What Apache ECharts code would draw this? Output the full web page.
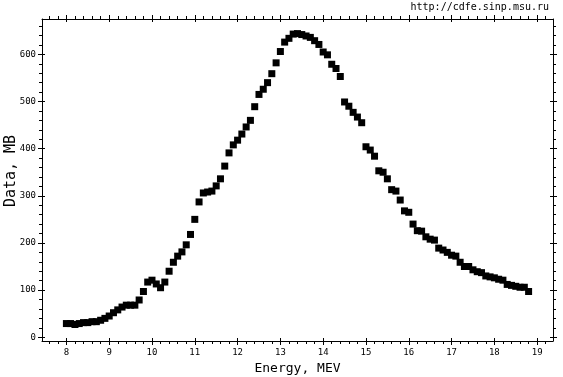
<!DOCTYPE html>
<html>
<head>
<meta charset="utf-8">
<script src="https://cdn.jsdelivr.net/npm/echarts@6/dist/echarts.min.js"></script>
<style>
  html, body { margin: 0; padding: 0; background: #fff; }
  #chart { width: 563px; height: 377px; }
</style>
</head>
<body>
<div id="chart"></div>
<script>
// energies (MeV)
const energy = [
  8.0, 8.1, 8.2, 8.3, 8.4, 8.5, 8.6, 8.7, 8.8, 8.9,
  9.0, 9.1, 9.2, 9.3, 9.4, 9.5, 9.6, 9.7, 9.8, 9.9,
  10.0, 10.1, 10.2, 10.3, 10.4, 10.5, 10.6, 10.7, 10.8, 10.9,
  11.0, 11.1, 11.2, 11.3, 11.4, 11.5, 11.6, 11.7, 11.8, 11.9,
  12.0, 12.1, 12.2, 12.3, 12.4, 12.5, 12.6, 12.7, 12.8, 12.9,
  13.0, 13.1, 13.2, 13.3, 13.4, 13.5, 13.6, 13.7, 13.8, 13.9,
  14.0, 14.1, 14.2, 14.3, 14.4, 14.5, 14.6, 14.7, 14.8, 14.9,
  15.0, 15.1, 15.2, 15.3, 15.4, 15.5, 15.6, 15.7, 15.8, 15.9,
  16.0, 16.1, 16.2, 16.3, 16.4, 16.5, 16.6, 16.7, 16.8, 16.9,
  17.0, 17.1, 17.2, 17.3, 17.4, 17.5, 17.6, 17.7, 17.8, 17.9,
  18.0, 18.1, 18.2, 18.3, 18.4, 18.5, 18.6, 18.7, 18.8
];
// cross section (mb)
const sigma = [
  29, 29, 27, 29, 31, 31, 33, 33, 36, 40,
  45, 52, 58, 64, 68, 68, 68, 79, 97, 117,
  121, 113, 105, 117, 140, 159, 172, 181, 196, 218,
  250, 287, 306, 308, 310, 321, 336, 363, 391, 408,
  418, 431, 446, 460, 489, 515, 526, 540, 559, 582,
  606, 626, 634, 643, 644, 642, 639, 636, 629, 621,
  605, 599, 579, 570, 553, 499, 490, 477, 467, 455,
  404, 397, 384, 353, 350, 336, 313, 310, 291, 268,
  265, 240, 226, 225, 213, 208, 206, 189, 185, 180,
  174, 172, 159, 150, 150, 143, 139, 137, 130, 128,
  126, 123, 121, 112, 110, 108, 106, 106, 97
];

const xMajor = [8, 9, 10, 11, 12, 13, 14, 15, 16, 17, 18, 19];
const xMinor = [];
for (let v = 7.6; v < 19.3; v += 0.2) xMinor.push(Math.round(v * 10) / 10);
const yMajor = [0, 100, 200, 300, 400, 500, 600];
const yMinor = [];
for (let v = 0; v <= 660; v += 20) yMinor.push(v);

const X_MIN = 7.43, X_MAX = 19.37;
const Y_MIN = -8, Y_MAX = 675;
const MONO = "'DejaVu Sans Mono', monospace";

// one axis layer: a set of ticks on one side, optionally with line + labels
function axisLayer(kind, pos, ticks, len, inside, withLine, withLabels) {
  const isX = kind === "x";
  return {
    type: "value",
    position: pos,
    min: isX ? X_MIN : Y_MIN,
    max: isX ? X_MAX : Y_MAX,
    axisLine: { show: withLine, onZero: false, lineStyle: { color: "#000", width: 1 } },
    axisTick: { show: true, customValues: ticks, length: len, inside: inside,
                lineStyle: { color: "#000", width: 1 } },
    axisLabel: withLabels
      ? { show: true, customValues: ticks, color: "#000", fontFamily: MONO,
          fontSize: 9, margin: isX ? 7 : 6 }
      : { show: false },
    splitLine: { show: false },
  };
}

const xAxes = [
  axisLayer("x", "bottom", xMajor, 4, false, true, true),
  axisLayer("x", "bottom", xMinor, 3, false, false, false),
  axisLayer("x", "bottom", xMajor, 3, true, false, false),
  axisLayer("x", "top", xMajor, 4, false, true, false),
  axisLayer("x", "top", xMinor, 3, false, false, false),
  axisLayer("x", "top", xMajor, 3, true, false, false),
];
xAxes[0].name = "Energy, MEV";
xAxes[0].nameLocation = "middle";
xAxes[0].nameGap = 17;
xAxes[0].nameTextStyle = { color: "#000", fontFamily: MONO, fontSize: 13 };

const yAxes = [
  axisLayer("y", "left", yMajor, 4, false, true, true),
  axisLayer("y", "left", yMinor, 3, false, false, false),
  axisLayer("y", "left", yMajor, 3, true, false, false),
  axisLayer("y", "right", yMajor, 4, false, true, false),
  axisLayer("y", "right", yMinor, 3, false, false, false),
  axisLayer("y", "right", yMajor, 3, true, false, false),
];

const chart = echarts.init(document.getElementById("chart"), null, { renderer: "canvas" });
chart.setOption({
  animation: false,
  backgroundColor: "#fff",
  grid: { left: 42, right: 10, top: 19, bottom: 36, containLabel: false, outerBoundsMode: "none" },
  xAxis: xAxes,
  yAxis: yAxes,
  graphic: [
    {
      type: "text", x: 11, y: 171, rotation: Math.PI / 2,
      style: { text: "Data, MB", fill: "#000", font: "15px " + MONO,
               align: "center", verticalAlign: "middle" },
    },
    {
      type: "text", right: 14, top: 2,
      style: { text: "http://cdfe.sinp.msu.ru", fill: "#000", font: "10px " + MONO },
    },
  ],
  series: [
    {
      type: "scatter",
      xAxisIndex: 0,
      yAxisIndex: 0,
      symbol: "rect",
      symbolSize: 7,
      itemStyle: { color: "#000", opacity: 1 },
      data: energy.map((e, i) => [e, sigma[i]]),
    },
  ],
});
</script>
</body>
</html>
